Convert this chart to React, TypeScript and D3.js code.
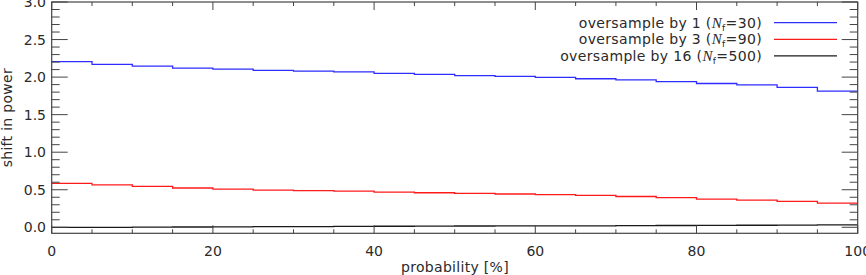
import React from "react";
import * as d3 from "d3";

const binStarts = [0, 5, 10, 15, 20, 25, 30, 35, 40, 45, 50, 55, 60, 65, 70, 75, 80, 85, 90, 95];
const oversample1 = [2.205, 2.17, 2.145, 2.12, 2.105, 2.09, 2.08, 2.07, 2.05, 2.035, 2.02, 2.01, 1.995, 1.978, 1.963, 1.94, 1.915, 1.896, 1.862, 1.812];
const oversample3 = [0.585, 0.566, 0.545, 0.523, 0.509, 0.496, 0.487, 0.481, 0.469, 0.46, 0.452, 0.443, 0.434, 0.425, 0.41, 0.394, 0.376, 0.363, 0.346, 0.323];
const oversample16 = [0.0, 0.0, 0.002, 0.004, 0.006, 0.008, 0.01, 0.012, 0.014, 0.016, 0.017, 0.018, 0.019, 0.02, 0.022, 0.024, 0.026, 0.027, 0.028, 0.031];
const xTicks = [0, 20, 40, 60, 80, 100];
const yTicks = [0, 0.5, 1.0, 1.5, 2.0, 2.5, 3.0];

const series = [
  { label: "oversample by 1 (", n: "=30)", values: oversample1, color: "#2d2dff" },
  { label: "oversample by 3 (", n: "=90)", values: oversample3, color: "#ff1a1a" },
  { label: "oversample by 16 (", n: "=500)", values: oversample16, color: "#1a1a1a" },
];

const W = 866, H = 275;
const L = 51.7, R = 857.7, T = 2, B = 233.3;
const FONT = "DejaVu Sans";

export default function App() {
  const x = d3.scaleLinear().domain([0, 100]).range([L, R]);
  const y = d3.scaleLinear().domain([-0.08, 3.0]).range([B, T]);
  const line = d3.line<[number, number]>().x(d => x(d[0])).y(d => y(d[1])).curve(d3.curveStepAfter);
  const xMinor = d3.range(0, 101, 5);
  const yMinor = d3.range(0, 31, 1).map(v => v / 10);
  const axisColor = "#444";
  const textColor = "#2a2a2a";

  return (
    <svg width={W} height={H} style={{ position: "absolute", left: 0, top: 0 }}>
      <rect width={W} height={H} fill="#fff" />
      {series.map((s, i) => {
        const pts: [number, number][] = s.values.map((v, j) => [binStarts[j], v]);
        pts.push([100, s.values[s.values.length - 1]]);
        return <path key={i} d={line(pts) || ""} fill="none" stroke={s.color} strokeWidth={1.3} />;
      })}
      <rect x={L} y={T} width={R - L} height={B - T} fill="none" stroke={axisColor} strokeWidth={1.2} />
      {xMinor.map((v, i) => {
        const major = v % 20 === 0;
        const len = major ? 8 : 4;
        return (
          <g key={"xt" + i}>
            <line x1={x(v)} x2={x(v)} y1={B} y2={B - len} stroke={axisColor} strokeWidth={1} />
            <line x1={x(v)} x2={x(v)} y1={T} y2={T + len} stroke={axisColor} strokeWidth={1} />
          </g>
        );
      })}
      {yMinor.map((v, i) => {
        const major = Math.round(v * 10) % 5 === 0;
        const len = major ? 16 : 8;
        return (
          <g key={"yt" + i}>
            <line x1={L} x2={L + len} y1={y(v)} y2={y(v)} stroke={axisColor} strokeWidth={1} />
            <line x1={R} x2={R - len} y1={y(v)} y2={y(v)} stroke={axisColor} strokeWidth={1} />
          </g>
        );
      })}
      {xTicks.map((v, i) => (
        <text key={"xl" + i} x={x(v)} y={256} textAnchor="middle" fontFamily={FONT} fontSize={14} fill={textColor}>
          {v}
        </text>
      ))}
      {yTicks.map((v, i) => (
        <text key={"yl" + i} x={46} y={y(v)} dy="0.36em" textAnchor="end" fontFamily={FONT} fontSize={14} fill={textColor}>
          {v.toFixed(1)}
        </text>
      ))}
      <text x={455} y={272} textAnchor="middle" fontFamily={FONT} fontSize={14} letterSpacing={0.3} fill={textColor}>
        probability [%]
      </text>
      <text transform={`translate(12,${(T + B) / 2}) rotate(-90)`} textAnchor="middle" fontFamily={FONT} fontSize={14} letterSpacing={0.3} fill={textColor}>
        shift in power
      </text>
      {series.map((s, i) => {
        const ly = 22.7 + i * 16.6;
        return (
          <g key={"lg" + i}>
            <text x={762} y={ly} dy="0.36em" textAnchor="end" fontFamily={FONT} fontSize={14} letterSpacing={0.35} fill={textColor}>
              {s.label}
              <tspan fontFamily="Liberation Serif" fontStyle="italic" fontSize={15}>N</tspan>
              <tspan fontFamily={FONT} fontSize={9} dy="3">f</tspan>
              <tspan dy="-3">{s.n}</tspan>
            </text>
            <line x1={774} x2={837} y1={ly} y2={ly} stroke={s.color} strokeWidth={1.3} />
          </g>
        );
      })}
    </svg>
  );
}
